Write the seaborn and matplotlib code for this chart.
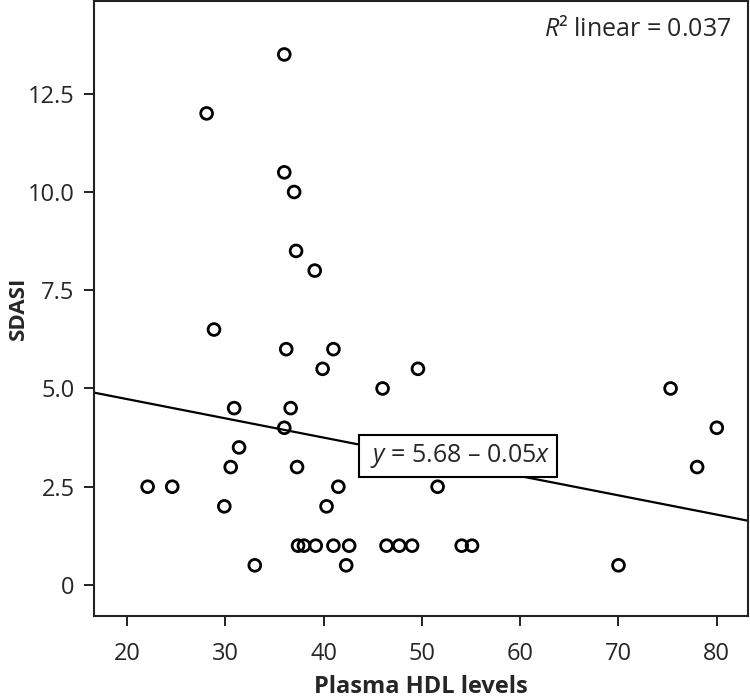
import matplotlib
matplotlib.use('Agg')
import matplotlib.pyplot as plt
import seaborn as sns
import pandas as pd

# HDL vs SDASI values
hdl = [36.0, 28.1, 36.0, 37.0, 37.2, 39.1, 28.85, 36.2, 41.0, 39.9,
       46.0, 49.6, 75.3, 30.9, 36.65, 36.0, 80.0, 31.4, 30.55, 37.3,
       78.0, 22.1, 24.6, 41.5, 51.6, 29.9, 40.3, 37.4, 38.0, 39.2,
       41.0, 42.6, 46.4, 47.7, 49.0, 54.05, 55.1, 33.0, 42.3, 70.0]
sdasi = [13.5, 12.0, 10.5, 10.0, 8.5, 8.0, 6.5, 6.0, 6.0, 5.5,
         5.0, 5.5, 5.0, 4.5, 4.5, 4.0, 4.0, 3.5, 3.0, 3.0,
         3.0, 2.5, 2.5, 2.5, 2.5, 2.0, 2.0, 1.0, 1.0, 1.0,
         1.0, 1.0, 1.0, 1.0, 1.0, 1.0, 1.0, 0.5, 0.5, 0.5]
# fitted line as drawn in the figure (y = 5.68 - 0.05x, unrounded)
fit_intercept = 5.71
fit_slope = -0.049
x_ticks = [20, 30, 40, 50, 60, 70, 80]
y_ticks = [0, 2.5, 5.0, 7.5, 10.0, 12.5]
y_ticklabels = ['0', '2.5', '5.0', '7.5', '10.0', '12.5']
eq_text = r' $y$ = 5.68 – 0.05$x$ '
r2_text = r'$R$² linear = 0.037'

df = pd.DataFrame({'hdl': hdl, 'sdasi': sdasi})

sns.set_style('ticks')
plt.rcParams['font.family'] = ['Open Sans', 'DejaVu Sans']
plt.rcParams['mathtext.fontset'] = 'custom'
plt.rcParams['mathtext.rm'] = 'Open Sans'
plt.rcParams['mathtext.it'] = 'Open Sans:italic'

fig = plt.figure(figsize=(7.5, 7), dpi=100)
ax = fig.add_axes([0.1253, 0.12, 0.8717, 0.878])

sns.scatterplot(data=df, x='hdl', y='sdasi', facecolors='none', edgecolor='black',
                linewidth=2.0, s=72, ax=ax, zorder=3)
ax.axline((0, fit_intercept), slope=fit_slope, color='black', linewidth=1.6, zorder=2)

ax.set_xlim(16.64, 83.15)
ax.set_ylim(-0.79, 14.85)
ax.set_xticks(x_ticks)
ax.set_yticks(y_ticks)
ax.set_yticklabels(y_ticklabels)
ax.tick_params(axis='both', labelsize=17, length=7, width=1.4, color='#222222')
ax.tick_params(axis='x', pad=12)
ax.tick_params(axis='y', pad=7)

for sp in ax.spines.values():
    sp.set_visible(True)
    sp.set_linewidth(1.5)
    sp.set_color('#222222')

ax.set_xlabel('Plasma HDL levels', fontsize=17, fontweight='bold', labelpad=6)
ax.set_ylabel('SDASI', fontsize=16, fontweight='bold')
ax.yaxis.set_label_coords(-0.1, 0.5)

ax.text(53.7, 3.28, eq_text, fontsize=18, ha='center', va='center', zorder=4,
        bbox=dict(boxstyle='square,pad=0.28', facecolor='white', edgecolor='black', linewidth=1.5))
ax.text(0.9755, 0.975, r2_text, transform=ax.transAxes, fontsize=18, ha='right', va='top')

plt.savefig('out.png', dpi=100)
